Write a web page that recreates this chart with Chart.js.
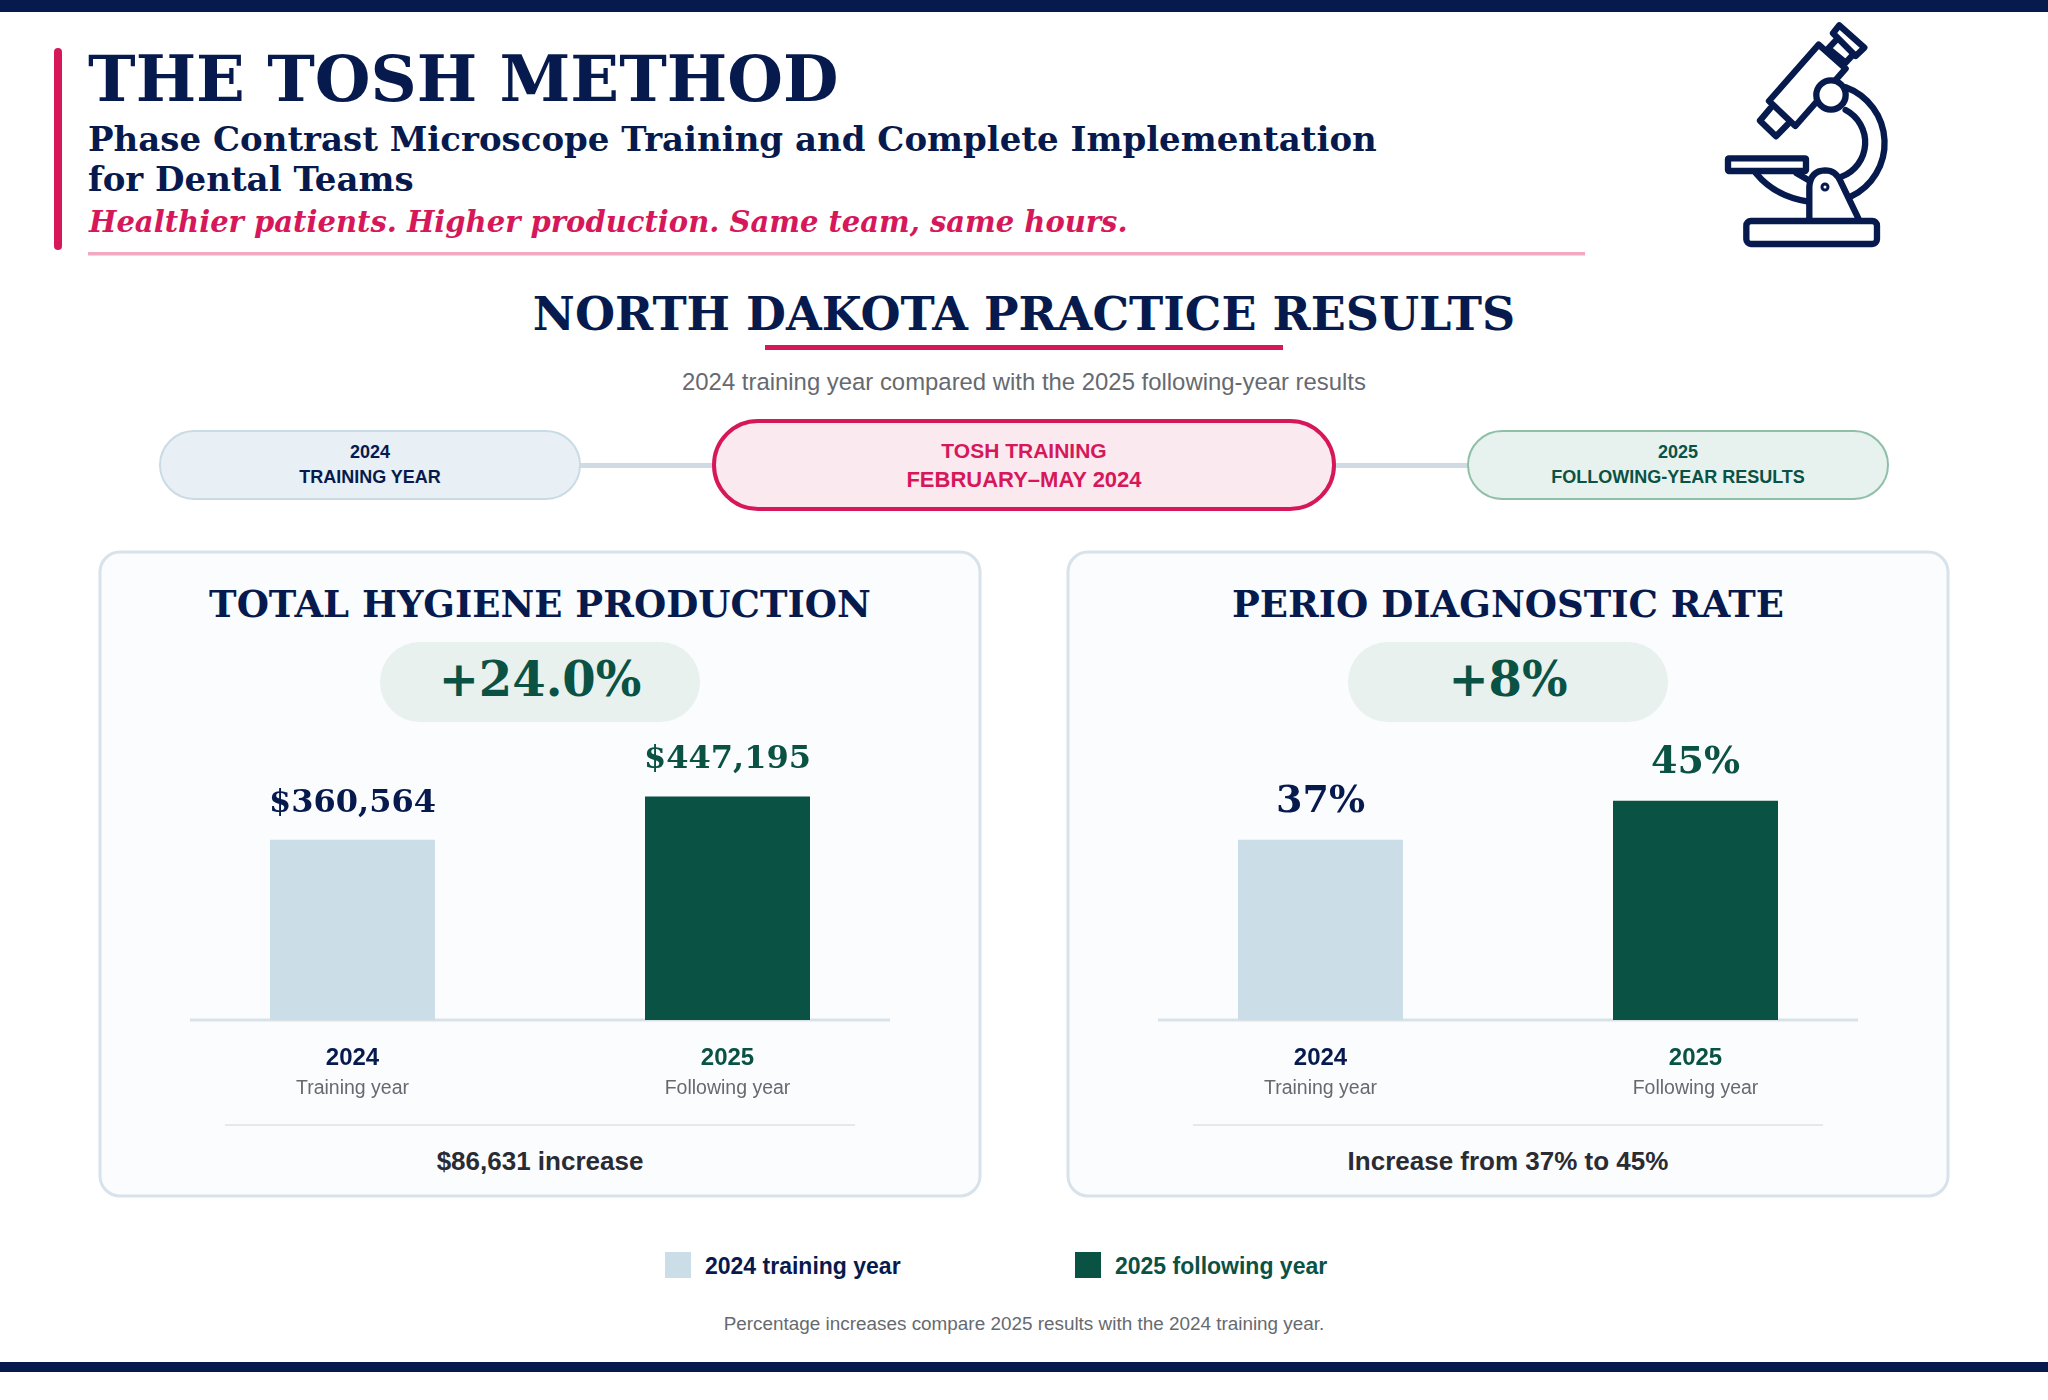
<!DOCTYPE html>
<html lang="en">
<head>
  <meta charset="UTF-8" />
  <title>The Tosh Method - North Dakota Practice Results</title>
  <script src="https://cdn.jsdelivr.net/npm/chart.js"></script>
  <style>
    body { margin: 0; background: #fff; }
    #page { position: relative; width: 2048px; height: 1400px; overflow: hidden; }
    #page svg { position: absolute; left: 0; top: 0; }
    canvas { position: absolute; }
    #chartHygiene { left: 165px; top: 740px; }
    #chartPerio { left: 1133px; top: 740px; }
    .serif { font-family: "DejaVu Serif", serif; font-weight: bold; }
    .sans { font-family: "Liberation Sans", Arial, sans-serif; }
    .b { font-weight: bold; }
    .mid { text-anchor: middle; }
  </style>
</head>
<body>
<div id="page">
  <svg width="2048" height="1400" xmlns="http://www.w3.org/2000/svg">
    <rect x="0" y="0" width="2048" height="12" fill="#071a4d"/>
    <rect x="0" y="1362" width="2048" height="10" fill="#071a4d"/>

    <!-- header -->
    <rect x="54" y="48" width="8" height="202" rx="4" fill="#d6185a"/>
    <text class="serif" x="88" y="101" font-size="64" fill="#071a4d">THE TOSH METHOD</text>
    <text class="serif" x="88" y="151" font-size="34" fill="#071a4d">Phase Contrast Microscope Training and Complete Implementation</text>
    <text class="serif" x="88" y="191" font-size="34" fill="#071a4d">for Dental Teams</text>
    <text class="serif" x="89" y="232" font-size="29" font-style="italic" fill="#d6185a">Healthier patients. Higher production. Same team, same hours.</text>
    <rect x="88" y="252" width="1497" height="3.5" fill="#f0a9c0"/>

    <!-- microscope -->
    <g transform="translate(1680 0) scale(0.3333)" fill="none" stroke="#071a4d" stroke-width="19" stroke-linejoin="round" stroke-linecap="round">
      <path d="M478 76 L553 143 L527 168 L459 100 Z"/>
      <path d="M467 122 L445 145 L497 188 L520 163"/>
      <path d="M416 134 L497 206 L346 378 L267 303 Z"/>
      <path d="M271 325 L240 362 L288 409 L324 372"/>
      <path d="M497 262 A 178 178 0 0 1 512 590"/>
      <path d="M497 330 A 110 110 0 0 1 485 530"/>
      <circle cx="453" cy="285" r="44" fill="#fff"/>
      <rect x="144" y="475" width="234" height="38" rx="3"/>
      <path d="M228 520 Q 285 590 385 605"/>
      <path d="M350 520 L385 540"/>
      <path d="M388 655 L388 560 Q 392 512 435 511 Q 468 511 482 545 L535 655"/>
      <circle cx="435" cy="561" r="9" stroke-width="9"/>
      <rect x="199" y="663" width="392" height="69" rx="14"/>
    </g>

    <!-- section heading -->
    <text class="serif mid" x="1024" y="330" font-size="46" fill="#071a4d">NORTH DAKOTA PRACTICE RESULTS</text>
    <rect x="765" y="345" width="518" height="5" fill="#d6185a"/>
    <text class="sans mid" x="1024" y="389.5" font-size="23.9" fill="#666a70">2024 training year compared with the 2025 following-year results</text>

    <!-- timeline -->
    <rect x="580" y="463" width="135" height="5" fill="#d0dae2"/>
    <rect x="1333" y="463" width="137" height="5" fill="#d0dae2"/>
    <rect x="160" y="431" width="420" height="68" rx="34" fill="#e8eff5" stroke="#c9dbe5" stroke-width="2"/>
    <text class="sans b mid" x="370" y="458" font-size="18" fill="#071a4d">2024</text>
    <text class="sans b mid" x="370" y="483" font-size="18" fill="#071a4d">TRAINING YEAR</text>
    <rect x="714" y="421" width="620" height="88" rx="44" fill="#fbe9f0" stroke="#d6185a" stroke-width="4"/>
    <text class="sans b mid" x="1024" y="458" font-size="21" fill="#d6185a">TOSH TRAINING</text>
    <text class="sans b mid" x="1024" y="487" font-size="22" fill="#d6185a">FEBRUARY–MAY 2024</text>
    <rect x="1468" y="431" width="420" height="68" rx="34" fill="#e7f1ed" stroke="#8fbfa9" stroke-width="2"/>
    <text class="sans b mid" x="1678" y="458" font-size="18" fill="#0a5244">2025</text>
    <text class="sans b mid" x="1678" y="483" font-size="18" fill="#0a5244">FOLLOWING-YEAR RESULTS</text>

    <!-- left card -->
    <rect x="100" y="552" width="880" height="644" rx="20" fill="#fafcfe" stroke="#d8e2ea" stroke-width="3"/>
    <text class="serif mid" x="540" y="617" font-size="37" fill="#071a4d">TOTAL HYGIENE PRODUCTION</text>
    <rect x="380" y="642" width="320" height="80" rx="40" fill="#e8f1ee"/>
    <text class="serif mid" x="540" y="696" font-size="48" fill="#0a5244">+24.0%</text>
    <rect x="225" y="1124" width="630" height="2" fill="#e3e9ee"/>
    <text class="sans b mid" x="540" y="1170" font-size="26" fill="#2b2b33">$86,631 increase</text>

    <!-- right card -->
    <rect x="1068" y="552" width="880" height="644" rx="20" fill="#fafcfe" stroke="#d8e2ea" stroke-width="3"/>
    <text class="serif mid" x="1508" y="617" font-size="37" fill="#071a4d">PERIO DIAGNOSTIC RATE</text>
    <rect x="1348" y="642" width="320" height="80" rx="40" fill="#e8f1ee"/>
    <text class="serif mid" x="1508" y="696" font-size="48" fill="#0a5244">+8%</text>
    <rect x="1193" y="1124" width="630" height="2" fill="#e3e9ee"/>
    <text class="sans b mid" x="1508" y="1170" font-size="26" fill="#2b2b33">Increase from 37% to 45%</text>

    <!-- legend and note -->
    <rect x="665" y="1252" width="26" height="26" fill="#cbdde6"/>
    <text class="sans b" x="705" y="1274" font-size="23" fill="#071a4d">2024 training year</text>
    <rect x="1075" y="1252" width="26" height="26" fill="#0a5244"/>
    <text class="sans b" x="1115" y="1274" font-size="23" fill="#0a5244">2025 following year</text>
    <text class="sans mid" x="1024" y="1330" font-size="18.9" fill="#666a70">Percentage increases compare 2025 results with the 2024 training year.</text>
  </svg>
  <canvas id="chartHygiene" width="750" height="370"></canvas>
  <canvas id="chartPerio" width="750" height="370"></canvas>
</div>

<script>
  const years = ['2024', '2025'];
  const yearNotes = ['Training year', 'Following year'];
  const hygieneValues = [360564, 447195];
  const perioValues = [37, 45];

  const NAVY = '#071a4d';
  const GREEN = '#0a5244';
  const barColors = ['#cbdde6', GREEN];
  const textColors = [NAVY, GREEN];

  // baseline, value labels and the grey line under each year
  const barExtras = {
    id: 'barExtras',
    beforeDatasetsDraw(chart) {
      const c = chart.ctx, a = chart.chartArea;
      const y0 = chart.scales.y.getPixelForValue(0);
      c.save();
      c.fillStyle = '#d8e2e8';
      c.fillRect(a.left + 25, y0 - 1.5, a.right - a.left - 50, 3);
      c.restore();
    },
    afterDatasetsDraw(chart, args, opts) {
      const c = chart.ctx;
      const bars = chart.getDatasetMeta(0).data;
      c.save();
      c.textAlign = 'center';
      c.textBaseline = 'alphabetic';
      bars.forEach((bar, i) => {
        c.font = 'bold ' + opts.valueSize + 'px "DejaVu Serif"';
        c.fillStyle = textColors[i];
        c.fillText(opts.format(chart.data.datasets[0].data[i]), bar.x, bar.y - 28);
        c.font = '19.5px "Liberation Sans"';
        c.fillStyle = '#666a70';
        c.fillText(yearNotes[i], chart.scales.x.getPixelForTick(i), 354);
      });
      c.restore();
    }
  };

  function drawBars(id, values, yMax, format, valueSize) {
    new Chart(document.getElementById(id), {
      type: 'bar',
      data: {
        labels: years,
        datasets: [{
          data: values,
          backgroundColor: barColors,
          barPercentage: 0.44,
          categoryPercentage: 1
        }]
      },
      options: {
        responsive: false,
        animation: false,
        layout: { padding: 0 },
        plugins: {
          legend: { display: false },
          tooltip: { enabled: false },
          barExtras: { format: format, valueSize: valueSize }
        },
        scales: {
          x: {
            grid: { display: false },
            border: { display: false },
            ticks: {
              padding: 16,
              maxRotation: 0,
              font: { family: 'Liberation Sans', size: 24, weight: 'bold' },
              color: ctx => textColors[ctx.index]
            },
            afterFit: scale => { scale.height = 90; }
          },
          y: { display: false, min: 0, max: yMax }
        }
      },
      plugins: [barExtras]
    });
  }

  drawBars('chartHygiene', hygieneValues, 560000, v => '$' + v.toLocaleString('en-US'), 32);
  drawBars('chartPerio', perioValues, 57.5, v => v + '%', 38);
</script>
</body>
</html>
